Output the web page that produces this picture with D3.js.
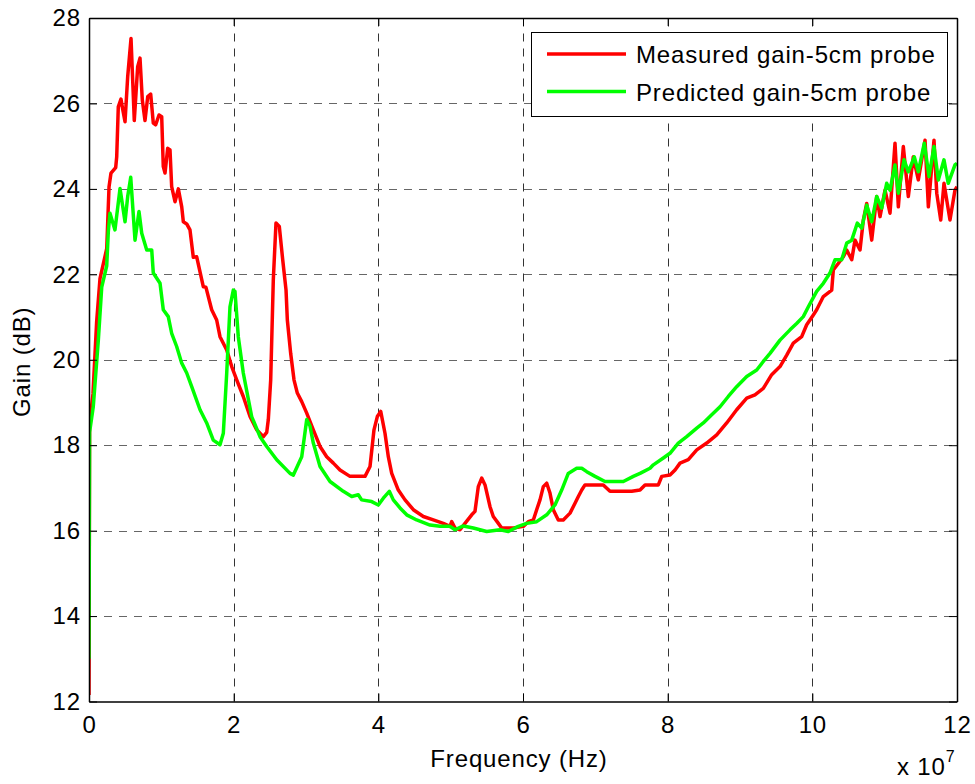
<!DOCTYPE html>
<html>
<head>
<meta charset="utf-8">
<script src="https://cdn.jsdelivr.net/npm/d3@7.9.0/dist/d3.min.js"></script>
<style>
  body { margin: 0; background: #fff; }
  svg { display: block; font-family: "Liberation Sans", Arial, sans-serif; }
  svg text { letter-spacing: 0.85px; }
</style>
</head>
<body>
<svg id="chart" width="975" height="784"></svg>
<script>
// frequency in units of 1e7 Hz, gain in dB
const measuredFreq = [0, 0.008, 0.055, 0.106, 0.152, 0.245, 0.277, 0.304, 0.369, 0.383, 0.405, 0.442, 0.46, 0.498, 0.535, 0.581, 0.626, 0.673, 0.705, 0.737, 0.774, 0.812, 0.853, 0.889, 0.922, 0.968, 1.005, 1.027, 1.051, 1.088, 1.12, 1.143, 1.189, 1.235, 1.282, 1.304, 1.351, 1.396, 1.442, 1.489, 1.58, 1.616, 1.696, 1.765, 1.811, 1.904, 1.973, 2.042, 2.133, 2.226, 2.318, 2.41, 2.457, 2.479, 2.512, 2.548, 2.585, 2.631, 2.678, 2.724, 2.742, 2.788, 2.834, 2.88, 2.941, 3.01, 3.101, 3.194, 3.286, 3.378, 3.47, 3.608, 3.816, 3.885, 3.94, 3.986, 4.033, 4.092, 4.138, 4.185, 4.276, 4.369, 4.484, 4.622, 4.76, 4.898, 4.991, 5.014, 5.06, 5.129, 5.198, 5.291, 5.336, 5.382, 5.429, 5.475, 5.544, 5.589, 5.659, 5.705, 5.866, 6.004, 6.073, 6.143, 6.189, 6.235, 6.281, 6.328, 6.373, 6.419, 6.488, 6.557, 6.65, 6.719, 6.765, 6.812, 6.857, 7.11, 7.203, 7.503, 7.618, 7.687, 7.871, 7.918, 8.032, 8.102, 8.171, 8.285, 8.402, 8.54, 8.678, 8.816, 8.954, 9.093, 9.207, 9.322, 9.438, 9.553, 9.646, 9.737, 9.853, 9.922, 10.014, 10.06, 10.152, 10.268, 10.29, 10.429, 10.475, 10.545, 10.59, 10.659, 10.705, 10.752, 10.821, 10.89, 10.936, 11.005, 11.074, 11.143, 11.189, 11.258, 11.327, 11.396, 11.465, 11.558, 11.604, 11.682, 11.72, 11.775, 11.82, 11.903, 11.972, 12];
const measuredGain = [12.15, 18.5, 19.2, 20.9, 21.9, 22.6, 24.05, 24.37, 24.5, 24.75, 25.92, 26.1, 25.92, 25.57, 26.63, 27.52, 25.6, 26.86, 27.06, 26.08, 25.6, 26.16, 26.22, 25.54, 25.5, 25.73, 25.69, 24.52, 24.37, 24.95, 24.91, 24.05, 23.7, 24.0, 23.58, 23.23, 23.18, 23.04, 22.4, 22.41, 21.71, 21.7, 21.17, 20.93, 20.54, 20.23, 19.84, 19.53, 19.14, 18.67, 18.36, 18.2, 18.3, 18.6, 19.53, 21.87, 23.2, 23.12, 22.34, 21.63, 20.93, 20.15, 19.53, 19.22, 19.02, 18.75, 18.36, 17.97, 17.73, 17.58, 17.42, 17.27, 17.27, 17.5, 18.36, 18.67, 18.79, 18.28, 17.73, 17.34, 16.95, 16.72, 16.49, 16.33, 16.25, 16.17, 16.1, 16.21, 16.06, 16.02, 16.17, 16.37, 16.45, 17.03, 17.23, 17.07, 16.56, 16.33, 16.17, 16.06, 16.06, 16.1, 16.21, 16.25, 16.49, 16.72, 17.03, 17.11, 16.88, 16.49, 16.25, 16.25, 16.41, 16.64, 16.8, 16.95, 17.07, 17.07, 16.92, 16.92, 16.95, 17.07, 17.07, 17.27, 17.3, 17.42, 17.58, 17.66, 17.89, 18.05, 18.24, 18.52, 18.83, 19.1, 19.18, 19.33, 19.65, 19.84, 20.11, 20.39, 20.54, 20.82, 21.05, 21.17, 21.48, 21.63, 22.1, 22.41, 22.57, 22.34, 22.8, 22.57, 23.27, 23.66, 22.8, 23.82, 23.35, 23.97, 23.43, 25.07, 23.58, 24.99, 23.82, 24.75, 24.21, 25.14, 23.58, 25.14, 23.9, 23.27, 24.13, 23.27, 23.97, 24.05];

const predictedFreq = [0, 0.008, 0.059, 0.129, 0.176, 0.245, 0.267, 0.29, 0.359, 0.429, 0.498, 0.535, 0.577, 0.636, 0.691, 0.729, 0.798, 0.867, 0.889, 0.982, 1.027, 1.096, 1.143, 1.212, 1.282, 1.351, 1.42, 1.535, 1.627, 1.718, 1.811, 1.857, 1.904, 1.949, 1.995, 2.018, 2.064, 2.133, 2.249, 2.364, 2.457, 2.595, 2.779, 2.825, 2.941, 3.01, 3.055, 3.101, 3.194, 3.332, 3.516, 3.632, 3.723, 3.769, 3.908, 4.0, 4.069, 4.152, 4.207, 4.3, 4.392, 4.53, 4.714, 4.853, 4.991, 5.06, 5.175, 5.313, 5.498, 5.682, 5.797, 5.935, 6.051, 6.189, 6.328, 6.442, 6.535, 6.626, 6.742, 6.812, 6.881, 6.996, 7.134, 7.387, 7.525, 7.618, 7.756, 7.802, 7.94, 8.032, 8.147, 8.263, 8.402, 8.493, 8.609, 8.724, 8.838, 8.954, 9.093, 9.231, 9.322, 9.415, 9.553, 9.691, 9.783, 9.875, 9.945, 10.06, 10.152, 10.244, 10.313, 10.406, 10.475, 10.545, 10.622, 10.683, 10.752, 10.821, 10.89, 10.959, 11.028, 11.074, 11.143, 11.189, 11.268, 11.327, 11.41, 11.465, 11.548, 11.613, 11.682, 11.742, 11.82, 11.879, 11.972, 12];
const predictedGain = [13.0, 18.3, 18.9, 20.46, 21.7, 22.2, 23.0, 23.43, 23.04, 24.01, 23.23, 23.82, 24.27, 22.8, 23.47, 22.96, 22.57, 22.57, 22.03, 21.79, 21.17, 21.01, 20.62, 20.31, 19.92, 19.69, 19.37, 18.83, 18.52, 18.12, 18.01, 18.28, 19.69, 21.24, 21.63, 21.6, 20.54, 19.69, 18.67, 18.2, 17.97, 17.66, 17.34, 17.3, 17.73, 18.6, 18.45, 18.05, 17.5, 17.15, 16.92, 16.8, 16.84, 16.72, 16.68, 16.6, 16.76, 16.92, 16.72, 16.53, 16.37, 16.25, 16.13, 16.1, 16.1, 16.02, 16.11, 16.06, 15.98, 16.02, 15.98, 16.1, 16.17, 16.21, 16.37, 16.6, 16.95, 17.34, 17.46, 17.46, 17.38, 17.27, 17.15, 17.15, 17.27, 17.34, 17.46, 17.54, 17.7, 17.81, 18.05, 18.2, 18.4, 18.52, 18.71, 18.9, 19.14, 19.37, 19.61, 19.76, 19.96, 20.15, 20.46, 20.7, 20.85, 21.01, 21.24, 21.6, 21.79, 22.03, 22.34, 22.34, 22.73, 22.8, 23.2, 23.08, 23.62, 23.23, 23.82, 23.55, 24.13, 23.97, 24.56, 23.9, 24.68, 24.4, 24.75, 24.4, 25.07, 24.29, 24.99, 24.21, 24.68, 24.13, 24.56, 24.6];

const xTicks = [0, 2, 4, 6, 8, 10, 12];
const yTicks = [12, 14, 16, 18, 20, 22, 24, 26, 28];
const seriesNames = ['Measured gain-5cm probe', 'Predicted gain-5cm probe'];
const seriesColors = ['#ff0000', '#00ff00'];

const series = [
  { name: seriesNames[0], color: seriesColors[0], values: measuredFreq.map((f, i) => ({ f, g: measuredGain[i] })) },
  { name: seriesNames[1], color: seriesColors[1], values: predictedFreq.map((f, i) => ({ f, g: predictedGain[i] })) },
];

const svg = d3.select('#chart');
const plot = { left: 89, top: 18, right: 957, bottom: 701.5 };

const x = d3.scaleLinear().domain([0, 12]).range([plot.left, plot.right]);
const y = d3.scaleLinear().domain([12, 28]).range([plot.bottom, plot.top]);

svg.append('defs').append('clipPath').attr('id', 'clip')
  .append('rect')
  .attr('x', plot.left).attr('y', plot.top)
  .attr('width', plot.right - plot.left).attr('height', plot.bottom - plot.top);

// grid
const grid = svg.append('g').attr('class', 'grid')
  .attr('stroke', '#555').attr('stroke-width', 1).attr('stroke-dasharray', '8,7');
grid.selectAll('line.gx')
  .data(xTicks.slice(1, -1))
  .join('line')
  .attr('class', 'gx')
  .attr('x1', d => Math.round(x(d)) + 0.5).attr('x2', d => Math.round(x(d)) + 0.5)
  .attr('y1', plot.bottom).attr('y2', plot.top)
  .attr('stroke', '#333');
grid.selectAll('line.gy')
  .data(yTicks.slice(1, -1))
  .join('line')
  .attr('class', 'gy')
  .attr('y1', d => Math.round(y(d)) + 0.5).attr('y2', d => Math.round(y(d)) + 0.5)
  .attr('x1', plot.left).attr('x2', plot.right)
  .attr('stroke', '#666');

// lines
const line = d3.line().x(d => x(d.f)).y(d => y(d.g));
svg.append('g').attr('clip-path', 'url(#clip)')
  .selectAll('path')
  .data(series)
  .join('path')
  .attr('d', d => line(d.values))
  .attr('fill', 'none')
  .attr('stroke', d => d.color)
  .attr('stroke-width', 3.5)
  .attr('stroke-linejoin', 'round');

// axes (box with inward ticks)
const tickLen = 8;
const axisBottom = d3.axisBottom(x).tickValues(xTicks).tickSizeInner(-tickLen).tickSizeOuter(0).tickPadding(14).tickFormat(d3.format('d'));
const axisTop = d3.axisTop(x).tickValues(xTicks).tickSizeInner(-tickLen).tickSizeOuter(0).tickFormat('');
const axisLeft = d3.axisLeft(y).tickValues(yTicks).tickSizeInner(-tickLen).tickSizeOuter(0).tickPadding(8).tickFormat(d3.format('d'));
const axisRight = d3.axisRight(y).tickValues(yTicks).tickSizeInner(-tickLen).tickSizeOuter(0).tickFormat('');

function styleAxis(g) {
  g.select('.domain').attr('stroke', '#000').attr('stroke-width', 1.5);
  g.selectAll('.tick line').attr('stroke', '#000').attr('stroke-width', 1);
  g.selectAll('.tick text').attr('fill', '#000').style('font-size', '24px')
    .style('font-family', '"Liberation Sans", Arial, sans-serif');
}

svg.append('g').attr('transform', `translate(0,${plot.bottom})`).call(axisBottom).call(styleAxis);
svg.append('g').attr('transform', `translate(0,${plot.top})`).call(axisTop).call(styleAxis);
svg.append('g').attr('transform', `translate(${plot.left},0)`).call(axisLeft).call(styleAxis);
svg.append('g').attr('transform', `translate(${plot.right},0)`).call(axisRight).call(styleAxis);

// axis titles
svg.append('text')
  .attr('x', (plot.left + plot.right) / 2 - 4).attr('y', 767)
  .attr('text-anchor', 'middle')
  .style('font-size', '24px')
  .text('Frequency (Hz)');

svg.append('text')
  .attr('transform', `translate(30,${(plot.top + plot.bottom) / 2 + 2}) rotate(-90)`)
  .attr('text-anchor', 'middle')
  .style('font-size', '24px')
  .text('Gain (dB)');

const expo = svg.append('text').attr('x', 897).attr('y', 775).style('font-size', '24px');
expo.append('tspan').text('x 10');
expo.append('tspan').attr('dy', -13).style('font-size', '16px').text('7');

// legend
const legend = svg.append('g').attr('class', 'legend');
legend.append('rect')
  .attr('x', 531.5).attr('y', 32.5).attr('width', 416).attr('height', 84)
  .attr('fill', '#fff').attr('stroke', '#000').attr('stroke-width', 1);
const items = legend.selectAll('g.item')
  .data(series)
  .join('g')
  .attr('class', 'item')
  .attr('transform', (d, i) => `translate(0,${54 + i * 37.5})`);
items.append('line')
  .attr('x1', 547).attr('x2', 626)
  .attr('stroke', d => d.color).attr('stroke-width', 3.5);
items.append('text')
  .attr('x', 636).attr('y', 9)
  .style('font-size', '24px')
  .text(d => d.name);
</script>
</body>
</html>
